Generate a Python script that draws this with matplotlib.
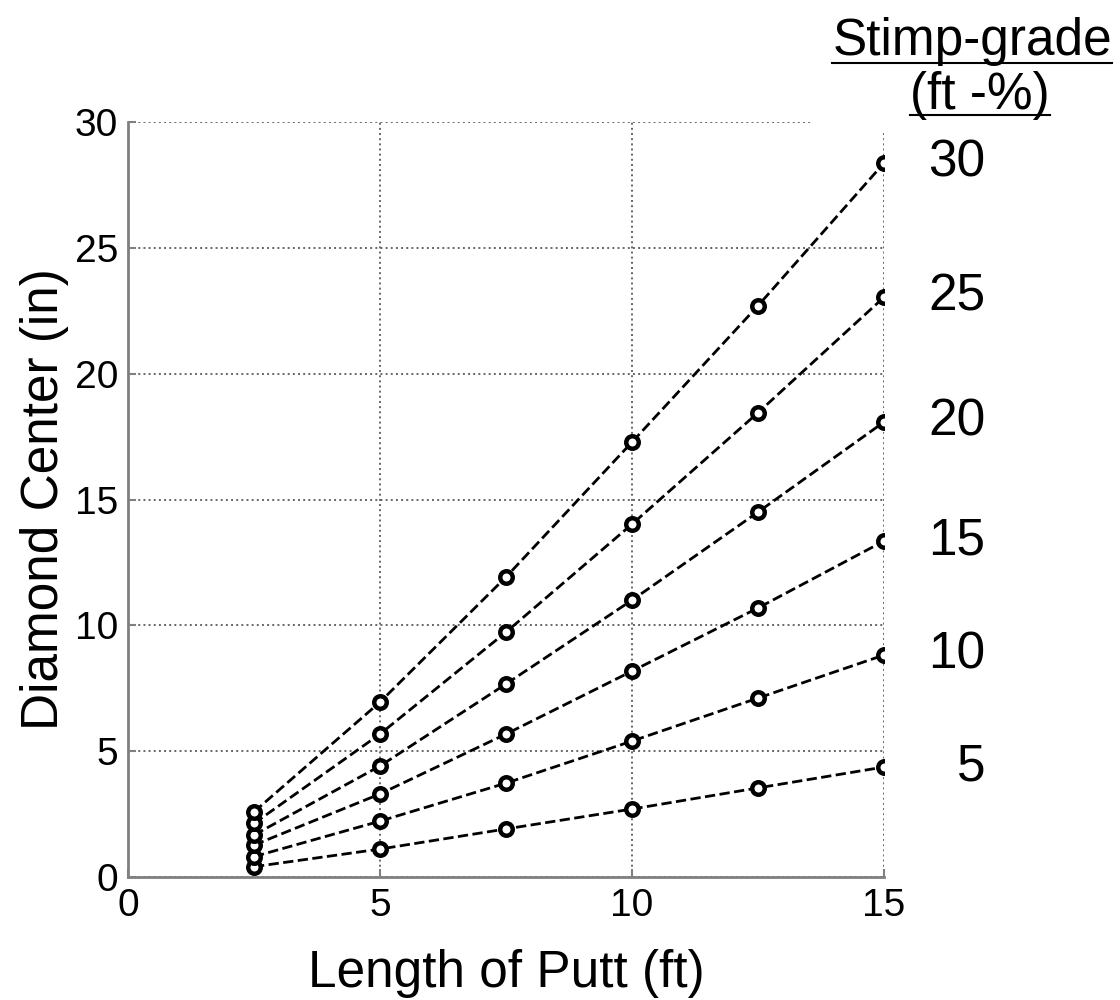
import matplotlib
matplotlib.use('Agg')
import matplotlib.pyplot as plt
from matplotlib.lines import Line2D
from matplotlib.patches import Rectangle
import numpy as np

plt.rcParams['font.family'] = ['Liberation Sans', 'DejaVu Sans']

# putt length (ft)
putt_len = [2.5, 5, 7.5, 10, 12.5, 15]

# diamond center (in) for each stimp-grade value
stimp_grade = [5, 10, 15, 20, 25, 30]
dc_5 = [0.41, 1.11, 1.91, 2.70, 3.54, 4.37]
dc_10 = [0.81, 2.22, 3.73, 5.40, 7.11, 8.82]
dc_15 = [1.27, 3.30, 5.68, 8.18, 10.69, 13.35]
dc_20 = [1.67, 4.41, 7.67, 11.00, 14.50, 18.08]
dc_25 = [2.13, 5.68, 9.73, 14.02, 18.45, 23.04]
dc_30 = [2.59, 6.95, 11.92, 17.28, 22.70, 28.37]
series = [dc_5, dc_10, dc_15, dc_20, dc_25, dc_30]

x_ticks = [0, 5, 10, 15]
y_ticks = [0, 5, 10, 15, 20, 25, 30]

fig = plt.figure(figsize=(11.2, 10), dpi=100)
ax = fig.add_axes([0.1143, 0.123, 0.675, 0.755])

for grade, vals in zip(stimp_grade, series):
    ax.plot(putt_len, vals, linestyle='--', color='black', linewidth=2,
            marker='o', markersize=9, markerfacecolor='white',
            markeredgecolor='black', markeredgewidth=3.2, zorder=3)
    ax.annotate(str(grade), xy=(putt_len[-1], vals[-1]), xytext=(73, 0),
                textcoords='offset points', ha='right', va='center',
                fontsize=37, annotation_clip=False)

ax.set_xlim(0, 15)
ax.set_ylim(0, 30)
ax.set_xticks(x_ticks)
ax.set_yticks(y_ticks)
ax.grid(True, linestyle=':', color='#666666', linewidth=1.4)
ax.set_axisbelow(True)
for s in ['top', 'right']:
    ax.spines[s].set_visible(False)
for s in ['left', 'bottom']:
    ax.spines[s].set_color('#808080')
    ax.spines[s].set_linewidth(2)
ax.tick_params(direction='in', length=6, width=1.5, color='#808080',
               labelsize=28, labelcolor='black')
ax.tick_params(axis='x', pad=8)
ax.tick_params(axis='y', pad=7)

# white box over the top-right corner of the grid (as in the original figure)
ax.add_patch(Rectangle((0.905, 0.985), 0.2, 0.05, transform=ax.transAxes,
                       facecolor='white', edgecolor='none', zorder=2.5,
                       clip_on=False))

ax.set_xlabel('Length of Putt (ft)', fontsize=37, labelpad=18)
ax.set_ylabel('Diamond Center (in)', fontsize=37, labelpad=4)

# legend title with underline
t1 = fig.text(0.868, 0.958, 'Stimp-grade', fontsize=37, ha='center', va='center')
t2 = fig.text(0.875, 0.905, '(ft -%)', fontsize=37, ha='center', va='center')
fig.canvas.draw()
r = fig.canvas.get_renderer()
for t in (t1, t2):
    bb = t.get_window_extent(r).transformed(fig.transFigure.inverted())
    fig.add_artist(Line2D([bb.x0, bb.x1], [bb.y0 + 0.004, bb.y0 + 0.004],
                          color='black', linewidth=1.5))

fig.savefig('out.png', dpi=100)
